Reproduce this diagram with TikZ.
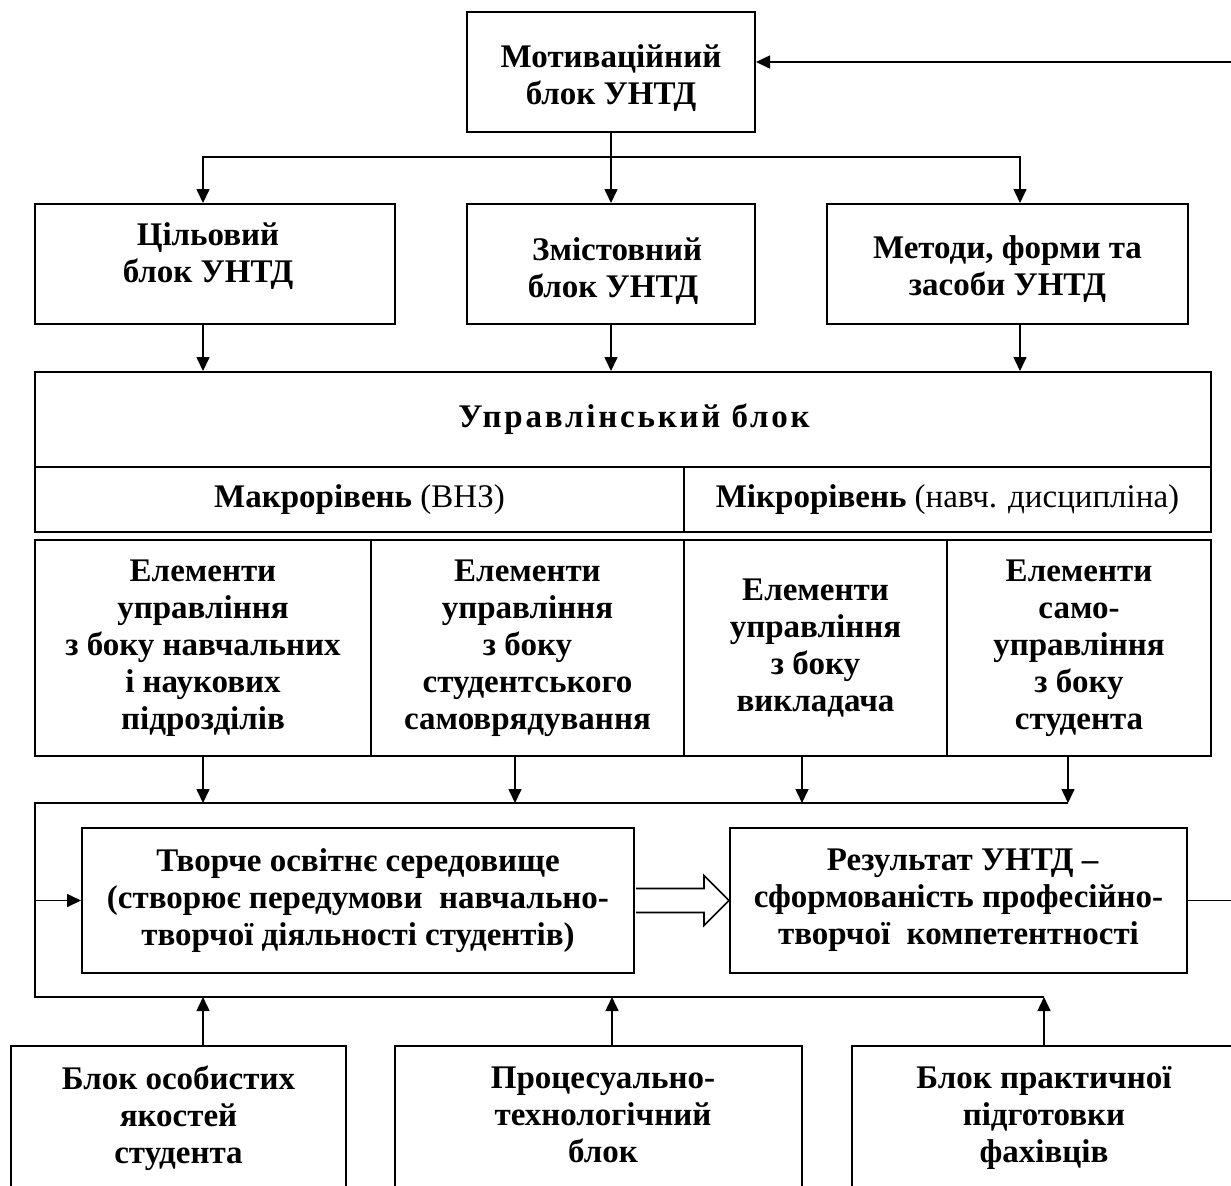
\documentclass[tikz,border=0pt]{standalone}
\usepackage{fontspec}
\setmainfont{Liberation Serif}
\usetikzlibrary{arrows.meta,calc}
\begin{document}
\begin{tikzpicture}[x=0.5pt,y=-0.5pt,
  txt/.style={align=center, inner sep=0pt, font=\bfseries\fontsize{16.5pt}{18.5pt}\selectfont},
  box/.style={draw, line width=1pt, inner sep=1pt, align=center, font=\bfseries\fontsize{16.5pt}{18.5pt}\selectfont},
  conn/.style={line width=0.8pt},
  frame/.style={line width=1pt},
  arr/.style={conn,-{Triangle[length=7pt,width=6.5pt]}},
  hollow/.style={line width=0.8pt, fill=white, line join=miter},
]
\fill[white] (0,0) rectangle (1231,1185);
\useasboundingbox (0,0) rectangle (1231,1185);

% top
\node (mot) [box, minimum width=144pt, minimum height=60pt] at (611,72) {};
\node (mott) [txt] at (611,78) {Мотиваційний\\блок УНТД};
% row 2
\node (cil) [box, minimum width=180pt, minimum height=60pt] at (215,264) {};
\node (cilt) [txt] at (208,256) {Цільовий\\блок УНТД};
\node (zm) [box, minimum width=144pt, minimum height=60pt] at (611,264) {};
\node (zmt) [txt] at (613,271) {\ Змістовний\\блок УНТД};
\node (met) [box, minimum width=180.5pt, minimum height=60pt] at (1007.5,264) {};
\node (mett) [txt] at (1007.5,269) {Методи, форми та\\засоби УНТД};
% management block
\node (upr) [box, minimum width=588pt, minimum height=47.5pt] at (623,419.5) {};
\node (uprt) [txt] at (634,419.5) {\addfontfeatures{LetterSpace=8.5}Управлінський блок};
\node (mac) [box, minimum width=324.5pt, minimum height=32.5pt] at (359.5,499.5) {Макрорівень \textmd{(ВНЗ)}};
\node (mic) [box, minimum width=263.5pt, minimum height=32.5pt] at (947.5,499.5) {Мікрорівень \textmd{(навч. дисципліна)}};
% row 4
\node (e1) [box, minimum width=168pt, minimum height=108pt] at (203,648) {Елементи\\управління\\з боку навчальних\\і наукових\\підрозділів};
\node (e2) [box, minimum width=156.5pt, minimum height=108pt] at (527.5,648) {Елементи\\управління\\з боку\\студентського\\самоврядування};
\node (e3) [box, minimum width=131.5pt, minimum height=108pt] at (815.5,648) {Елементи\\управління\\з боку\\викладача};
\node (e4) [box, minimum width=132pt, minimum height=108pt] at (1079,648) {Елементи\\само-\\управління\\з боку\\студента};
% middle
\node (tv) [box, minimum width=276pt, minimum height=72.5pt] at (358,900.5) {Творче освітнє середовище\\(створює передумови\ \ навчально-\\творчої діяльності студентів)};
\node (res) [box, minimum width=228.5pt, minimum height=72.5pt] at (958.5,900.5) {\ Результат УНТД –\\сформованість професійно-\\творчої\ \ компетентності};
% bottom
\node (b1) [box, minimum width=167.5pt, minimum height=120pt, anchor=north] at (178.5,1045) {};
\node (b2) [box, minimum width=203.5pt, minimum height=120pt, anchor=north] at (598.5,1045) {};
\node (b3) [box, minimum width=214pt, minimum height=120pt, anchor=north] at (1066,1045) {};
\node (b1t) [txt] at (178.5,1118) {Блок особистих\\якостей\\студента};
\node (b2t) [txt] at (603,1115) {Процесуально-\\технологічний\\блок};
\node (b3t) [txt] at (1044,1118) {Блок практичної\\підготовки\\фахівців};

% top distribution
\coordinate (br0) at ([yshift=-12pt]mot.south);
\draw[conn] (mot.south) -- (br0);
\draw[arr] (br0) -| ([xshift=-6pt]cil.north);
\draw[arr] (br0) -- (zm.north);
\draw[arr] (br0) -| ([xshift=6.25pt]met.north);

% row 2 to management
\coordinate (d1) at ([xshift=-6pt]cil.south);
\coordinate (d2) at (zm.south);
\coordinate (d3) at ([xshift=6.25pt]met.south);
\draw[arr] (d1) -- (d1 |- upr.north);
\draw[arr] (d2) -- (d2 |- upr.north);
\draw[arr] (d3) -- (d3 |- upr.north);

% container
\coordinate (tl) at (35,803);
\coordinate (tr) at (1068,803);
\coordinate (bl) at (35,997);
\coordinate (brr) at (1044,997);
\draw[frame] (tr) -- (tl) -- (bl) -- (brr);

\coordinate (s1) at (e1.south);
\coordinate (s2) at ([xshift=-6.25pt]e2.south);
\coordinate (s3) at ([xshift=-6.75pt]e3.south);
\coordinate (s4) at ([xshift=-5.5pt]e4.south);
\draw[arr] (s1) -- (s1 |- tl);
\draw[arr] (s2) -- (s2 |- tl);
\draw[arr] (s3) -- (s3 |- tl);
\draw[arr] (s4) -- (s4 |- tl);

\draw[arr] (tl |- tv.west) -- (tv.west);

% hollow arrow
\draw[hollow] ($(tv.east)+(1,-12)$) -- ($(res.west)+(-25,-12)$) -- ($(res.west)+(-25,-25)$) -- (res.west) -- ($(res.west)+(-25,25)$) -- ($(res.west)+(-25,12)$) -- ($(tv.east)+(1,12)$);

% feedback
\draw[arr] (res.east) -- ++(60,0) |- ([yshift=5pt]mot.east);

% bottom arrows
\coordinate (u1) at ([xshift=12.25pt]b1.north);
\coordinate (u2) at ([xshift=6.75pt]b2.north);
\coordinate (u3) at ([xshift=-11pt]b3.north);
\draw[arr] (u1) -- (u1 |- bl);
\draw[arr] (u2) -- (u2 |- bl);
\draw[arr] (u3) -- (u3 |- bl);
\end{tikzpicture}
\end{document}
